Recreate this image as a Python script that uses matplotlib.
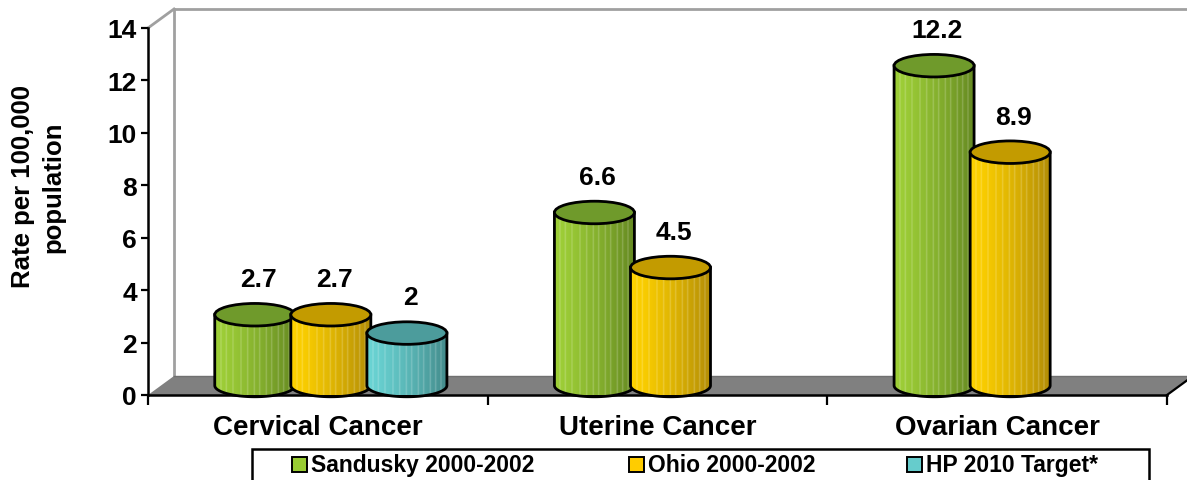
import numpy as np
import matplotlib
matplotlib.use('Agg')
import matplotlib.pyplot as plt
from matplotlib.patches import Polygon, Ellipse, Rectangle
from matplotlib.colors import to_rgb

plt.rcParams['font.family'] = ['Liberation Sans', 'DejaVu Sans']
plt.rcParams['font.weight'] = 'bold'

categories = ['Cervical Cancer', 'Uterine Cancer', 'Ovarian Cancer']
series_names = ['Sandusky 2000-2002', 'Ohio 2000-2002', 'HP 2010 Target*']
sandusky = [2.7, 6.6, 12.2]
ohio = [2.7, 4.5, 8.9]
hp_target = [2.0, None, None]
series_values = [sandusky, ohio, hp_target]

# light side, dark side, top face
light_cols = ['#9fd038', '#ffd200', '#6ad4d4']
dark_cols = ['#668a22', '#b38d06', '#448c8c']
top_cols = ['#6f9a2b', '#c39b00', '#4c9c9c']
legend_cols = ['#99cc33', '#ffcc00', '#66cccc']

W, H = 1187, 481
fig = plt.figure(figsize=(W / 100, H / 100), dpi=100)
ax = fig.add_axes([148 / W, (H - 396) / H, 1019 / W, 367 / H])
ax.set_facecolor('none')

XMIN, XMAX, YMAX = -0.5, 2.5, 14
DX = 26 / (1019 / 3)     # depth offset in category units
DY = 19 / (367 / 14)     # depth offset in value units
BW = 0.2355              # cylinder width
EH = 0.86                # ellipse height (value units)
OFF = 0.224              # series spacing

# back wall and floor
wall = dict(color='#a0a0a0', lw=2, clip_on=False, zorder=0.5)
ax.plot([XMIN + DX, XMIN + DX], [DY, YMAX + DY], **wall)
ax.plot([XMIN + DX, XMAX + DX + 0.1], [YMAX + DY, YMAX + DY], **wall)
ax.plot([XMIN, XMIN + DX], [YMAX, YMAX + DY], **wall)
floor = Polygon([(XMIN, 0), (XMAX, 0), (XMAX + DX, DY), (XMIN + DX, DY)],
                closed=True, facecolor='#808080', edgecolor='none', clip_on=False, zorder=1)
ax.add_patch(floor)
ax.plot([XMAX, XMAX + DX], [0, DY], color='black', lw=1.6, clip_on=False, zorder=1.1)
ax.plot([XMIN + DX, XMAX + DX], [DY, DY], color='#707070', lw=1, clip_on=False, zorder=1.05)

stripe_cols = [4, 8, 13, 19, 24, 29, 33, 38, 42, 47, 51, 55]


def gradient(light, dark, n=60):
    t = np.linspace(0, 1, n) ** 1.3
    lo, hi = np.array(to_rgb(light)), np.array(to_rgb(dark))
    img = lo[None, :] * (1 - t[:, None]) + hi[None, :] * t[:, None]
    for c in stripe_cols:
        img[c] = img[c] * 0.8 + 0.2
    return img[None, :, :]


def cylinder(cx, val, s, z):
    base = DY / 2
    top = val + DY / 2
    left, right = cx - BW / 2, cx + BW / 2
    ang = np.linspace(np.pi, 2 * np.pi, 60)
    arc = np.column_stack([cx + BW / 2 * np.cos(ang), base + EH / 2 * np.sin(ang)])
    verts = np.vstack([[left, top], arc, [right, top]])
    body = Polygon(verts, closed=True, facecolor='none', edgecolor='none',
                   transform=ax.transData)
    ax.add_patch(body)
    im = ax.imshow(gradient(light_cols[s], dark_cols[s]), aspect='auto',
                   extent=[left, right, base - EH / 2, top], zorder=z, interpolation='bilinear')
    im.set_clip_path(body)
    ax.plot(np.r_[left, arc[:, 0], right], np.r_[top, arc[:, 1], top],
            color='black', lw=2, clip_on=False, zorder=z + 0.01)
    ax.add_patch(Ellipse((cx, top), BW, EH, facecolor=top_cols[s], edgecolor='black',
                         lw=2, clip_on=False, zorder=z + 0.02))
    ax.text(cx + 0.01, top + 1.36, f'{val:g}', ha='center', va='center',
            fontsize=19, fontweight='bold', zorder=10)


for ci in range(len(categories)):
    for s, vals in enumerate(series_values):
        v = vals[ci]
        if v is None:
            continue
        cx = ci + (s - 1) * OFF + DX / 2
        cylinder(cx, v, s, 2 + s + ci * 0.1)

ax.set_xlim(XMIN, XMAX)
ax.set_ylim(0, YMAX)

for side in ['top', 'right']:
    ax.spines[side].set_visible(False)
for side in ['left', 'bottom']:
    ax.spines[side].set_linewidth(1.8)
    ax.spines[side].set_zorder(1.2)

ax.set_yticks(np.arange(0, 15, 2))
ax.tick_params(axis='y', direction='out', length=5, width=1.6, pad=3, labelsize=19)
for lab in ax.get_yticklabels():
    lab.set_fontweight('bold')
ax.set_xticks([-0.5, 0.5, 1.5, 2.5])
ax.set_xticklabels([])
ax.tick_params(axis='x', which='major', direction='out', length=7, width=1.6)
ax.set_xticks(range(len(categories)), minor=True)
ax.set_xticklabels(categories, minor=True, fontsize=20, fontweight='bold')
ax.tick_params(axis='x', which='minor', length=0, pad=14)

fig.text(38 / W, 1 - 187 / H, 'Rate per 100,000\npopulation', rotation=90,
         ha='center', va='center', multialignment='center', fontsize=18.5,
         fontweight='bold', linespacing=1.3)

# legend box
fig.patches.append(Rectangle((252 / W, -0.05), (1149 - 252) / W, (481 - 450) / H + 0.05,
                             transform=fig.transFigure, facecolor='white',
                             edgecolor='black', lw=1.8))
sq_x = [292, 629, 907]
for s, name in enumerate(series_names):
    fig.patches.append(Rectangle((sq_x[s] / W, (H - 473) / H), 15 / W, 15 / H,
                                 transform=fig.transFigure, facecolor=legend_cols[s],
                                 edgecolor='black', lw=1.4))
    fig.text((sq_x[s] + 19) / W, (H - 465.5) / H, name, ha='left', va='center',
             fontsize=16.5, fontweight='bold')

fig.savefig('out.png', dpi=100)
